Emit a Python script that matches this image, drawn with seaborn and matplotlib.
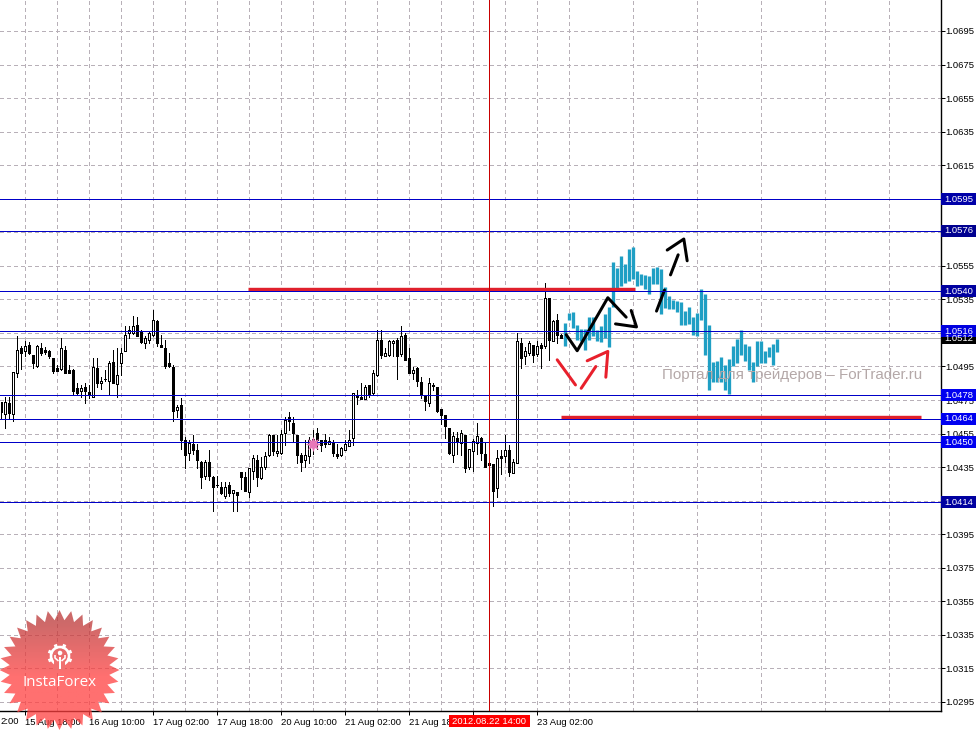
import numpy as np
import pandas as pd
import matplotlib
matplotlib.use("Agg")
import matplotlib.pyplot as plt
from matplotlib.patches import Polygon, Rectangle, Circle
from matplotlib.transforms import blended_transform_factory
import seaborn as sns

# --- chart values (prices) ---
opens = [1.04736,1.04664,1.04730,1.04664,1.04910,1.05060,1.05040,1.05080,1.05020,1.04954,1.05060,1.05048,1.05044,1.05000,1.04940,1.04936,1.05050,1.04930,1.04930,1.04820,
1.04806,1.04826,1.04796,1.04766,1.04940,1.04850,1.04874,1.04866,1.04976,1.04846,1.04970,1.05040,1.05150,1.05150,1.05200,1.05154,1.05090,1.05106,1.05138,1.05224,
1.05078,1.05060,1.04970,1.04946,1.04690,1.04720,1.04510,1.04434,1.04488,1.04450,1.04382,1.04300,1.04378,1.04294,1.04246,1.04230,1.04180,1.04244,1.04196,1.04202,
1.04322,1.04290,1.04200,1.04330,1.04394,1.04284,1.04350,1.04420,1.04544,1.04434,1.04434,1.04554,1.04646,1.04616,1.04544,1.04420,1.04394,1.04416,1.04470,1.04556,
1.04510,1.04510,1.04490,1.04494,1.04426,1.04420,1.04454,1.04478,1.04524,1.04778,1.04770,1.04758,1.04838,1.04794,1.04898,1.05106,1.05010,1.05016,1.05090,1.05110,
1.05026,1.05140,1.05000,1.04910,1.04942,1.04858,1.04774,1.04734,1.04834,1.04826,1.04696,1.04658,1.04586,1.04422,1.04526,1.04494,1.04544,1.04350,1.04446,1.04494,
1.04526,1.04426,1.04376,1.04366,1.04224,1.04418,1.04416,1.04454,1.04314,1.04374,1.05090,1.05010,1.05030,1.05078,1.05026,1.05080,1.05070,1.05356,1.05100,1.05226,1.05140]
closes = [1.04676,1.04736,1.04674,1.04916,1.05048,1.05030,1.05070,1.05030,1.04968,1.05074,1.05028,1.05038,1.05010,1.04924,1.04926,1.05060,1.04914,1.04914,1.04806,1.04794,
1.04820,1.04806,1.04778,1.04946,1.04854,1.04866,1.04878,1.04970,1.04854,1.04902,1.05030,1.05136,1.05166,1.05194,1.05134,1.05096,1.05120,1.05150,1.05226,1.05090,
1.05068,1.04954,1.04954,1.04686,1.04706,1.04510,1.04420,1.04494,1.04454,1.04390,1.04290,1.04382,1.04300,1.04230,1.04244,1.04194,1.04234,1.04198,1.04212,1.04182,
1.04290,1.04210,1.04346,1.04406,1.04290,1.04350,1.04416,1.04540,1.04446,1.04446,1.04546,1.04634,1.04626,1.04554,1.04420,1.04382,1.04424,1.04510,1.04520,1.04510,
1.04484,1.04486,1.04506,1.04434,1.04418,1.04466,1.04486,1.04514,1.04790,1.04766,1.04758,1.04826,1.04786,1.04910,1.05110,1.05018,1.05030,1.05102,1.05102,1.05014,
1.05134,1.04986,1.04914,1.04930,1.04866,1.04782,1.04746,1.04850,1.04838,1.04686,1.04660,1.04594,1.04434,1.04538,1.04504,1.04556,1.04344,1.04456,1.04506,1.04538,
1.04436,1.04350,1.04360,1.04210,1.04406,1.04404,1.04450,1.04320,1.04382,1.05104,1.04998,1.05044,1.05090,1.05016,1.05070,1.05060,1.05360,1.05106,1.05224,1.05140,1.05120]
highs = [1.04736,1.04766,1.04766,1.04916,1.05130,1.05070,1.05100,1.05094,1.05020,1.05080,1.05090,1.05066,1.05050,1.05000,1.04960,1.05120,1.05070,1.04960,1.04934,1.04850,
1.04840,1.04850,1.04840,1.05000,1.05000,1.04886,1.04930,1.04980,1.05050,1.05060,1.05060,1.05190,1.05190,1.05254,1.05246,1.05166,1.05130,1.05160,1.05284,1.05230,
1.05136,1.05110,1.05030,1.04958,1.04720,1.04760,1.04530,1.04510,1.04540,1.04490,1.04386,1.04390,1.04450,1.04300,1.04300,1.04260,1.04260,1.04260,1.04214,1.04202,
1.04322,1.04320,1.04346,1.04420,1.04420,1.04410,1.04440,1.04550,1.04544,1.04540,1.04570,1.04650,1.04676,1.04646,1.04544,1.04434,1.04510,1.04530,1.04574,1.04586,
1.04514,1.04550,1.04530,1.04510,1.04490,1.04470,1.04514,1.04574,1.04794,1.04810,1.04850,1.04840,1.04840,1.04930,1.05170,1.05170,1.05060,1.05110,1.05110,1.05120,
1.05194,1.05150,1.05060,1.04946,1.04946,1.04886,1.04774,1.04880,1.04850,1.04830,1.04696,1.04658,1.04586,1.04560,1.04560,1.04570,1.04544,1.04460,1.04520,1.04616,
1.04530,1.04494,1.04376,1.04366,1.04450,1.04450,1.04544,1.04480,1.04400,1.05150,1.05120,1.05066,1.05104,1.05078,1.05100,1.05090,1.05446,1.05360,1.05230,1.05260,1.05146]
lows = [1.04636,1.04586,1.04640,1.04626,1.04886,1.04938,1.05010,1.05026,1.04944,1.04946,1.05020,1.05026,1.05000,1.04914,1.04924,1.04930,1.04914,1.04910,1.04780,1.04786,
1.04766,1.04734,1.04760,1.04766,1.04830,1.04814,1.04866,1.04780,1.04850,1.04766,1.04900,1.05040,1.05120,1.05146,1.05130,1.05090,1.05058,1.05090,1.05134,1.05074,
1.05066,1.04944,1.04946,1.04626,1.04650,1.04460,1.04346,1.04390,1.04430,1.04346,1.04224,1.04280,1.04274,1.04090,1.04230,1.04190,1.04166,1.04180,1.04090,1.04090,
1.04220,1.04210,1.04170,1.04280,1.04240,1.04280,1.04340,1.04414,1.04420,1.04414,1.04430,1.04480,1.04570,1.04500,1.04374,1.04330,1.04350,1.04374,1.04430,1.04460,
1.04444,1.04470,1.04486,1.04414,1.04404,1.04414,1.04450,1.04478,1.04480,1.04726,1.04756,1.04758,1.04766,1.04778,1.04894,1.05000,1.05010,1.05014,1.05014,1.04878,
1.05014,1.04986,1.04914,1.04874,1.04834,1.04760,1.04690,1.04716,1.04810,1.04680,1.04610,1.04524,1.04430,1.04380,1.04430,1.04420,1.04320,1.04340,1.04330,1.04430,
1.04390,1.04350,1.04360,1.04120,1.04170,1.04310,1.04380,1.04300,1.04314,1.04374,1.04940,1.04966,1.05020,1.04974,1.05010,1.04940,1.05060,1.04986,1.05100,1.05090,1.05120]
projection_highs = [1.05210,1.05266,1.05276,1.05200,1.05174,1.05174,1.05246,1.05246,1.05170,1.05190,1.05260,1.05306,1.05570,1.05540,1.05610,1.05560,1.05650,1.05660,1.05518,1.05500,
1.05494,1.05490,1.05540,1.05546,1.05530,1.05426,1.05370,1.05346,1.05340,1.05334,1.05280,1.05306,1.05246,1.05270,1.05410,1.05380,1.05200,1.04974,1.04980,1.05006,
1.04960,1.04994,1.05070,1.05114,1.05170,1.05086,1.05074,1.04974,1.05100,1.05100,1.05040,1.05066,1.05084,1.05114]
projection_lows = [1.05070,1.05230,1.05180,1.05110,1.05100,1.05050,1.05110,1.05130,1.05100,1.05094,1.05122,1.05064,1.05306,1.05410,1.05430,1.05450,1.05460,1.05470,1.05430,1.05434,
1.05410,1.05380,1.05440,1.05440,1.05260,1.05300,1.05290,1.05290,1.05274,1.05200,1.05200,1.05206,1.05140,1.05134,1.05230,1.05020,1.04810,1.04860,1.04860,1.04860,
1.04810,1.04786,1.04950,1.04970,1.05020,1.04980,1.04930,1.04860,1.04950,1.04970,1.04970,1.05006,1.04960,1.05034]
projection_start = 141

levels = [1.0595, 1.0576, 1.0540, 1.0516, 1.0478, 1.0464, 1.0450, 1.0414]
level_box_colors = ["#0000a8", "#000090", "#0000a0", "#0000e0", "#0000f0", "#0000f0", "#0000f0", "#0000a0"]
ask_level = 1.0512
y_ticks = [1.0695,1.0675,1.0655,1.0635,1.0615,1.0595,1.0575,1.0555,1.0535,1.0515,1.0495,1.0475,1.0455,1.0435,1.0415,1.0395,1.0375,1.0355,1.0335,1.0315,1.0295]
hidden_y_ticks = [1.0595, 1.0575, 1.0515, 1.0415]   # fully covered by the price boxes
y_tick_labels = ["" if v in hidden_y_ticks else f"{v:.4f}" for v in y_ticks]
x_tick_bars = [6,22,38,54,70,86,102,118,134]
x_tick_labels = ["15 Aug 18:00","16 Aug 10:00","17 Aug 02:00","17 Aug 18:00","20 Aug 10:00","21 Aug 02:00","21 Aug 18:00","","23 Aug 02:00"]
cursor_bar = 122
cursor_label = "2012.08.22 14:00"

support_bars = [140, 230]
support_prices = [1.04647, 1.04647]
resistance_bars = [61.75, 158.5]
resistance_prices = [1.05410, 1.05410]

black_paths = [
    ([141.17,143.92,151.58,156.17],[1.05140,1.05044,1.05360,1.05244]),
    ([153.5,158.75,157.42],[1.05204,1.05186,1.05284]),
    ([163.75,165.75],[1.05280,1.05406]),
    ([167.25,169.17],[1.05496,1.05616]),
    ([166.42,170.58,171.42],[1.05644,1.05710,1.05580]),
]
red_paths = [
    ([138.92,143.5],[1.04990,1.04840]),
    ([144.92,148.58],[1.04820,1.04950]),
    ([146.42,151.58,151.08],[1.04984,1.05040,1.04886]),
]

# --- figure ---
W, H = 979, 730
PX = 0.72
FS = 6.8
sns.set_theme(style="white", rc={"lines.scale_dashes": False, "lines.solid_capstyle": "butt"})
plt.rcParams["font.family"] = ["Liberation Sans", "DejaVu Sans"]
fig = plt.figure(figsize=(W/100, H/100), dpi=100, facecolor="white")
ax = fig.add_axes([0, 1-711/H, 941/W, 711/H], facecolor="white")

n = len(opens)
bars = np.arange(n)
o, c, hi, lo = map(np.array, (opens, closes, highs, lows))
wicks = pd.DataFrame({"bar": np.r_[bars, bars], "price": np.r_[hi, lo]})
sns.lineplot(data=wicks, x="bar", y="price", units="bar", estimator=None, color="black",
             lw=PX, antialiased=False, legend=False, ax=ax, zorder=3, sort=False)
ax.bar(bars, np.maximum(np.abs(c-o), 1e-5), bottom=np.minimum(o, c), width=0.5,
       color=["white" if cc > oo else "black" for oo, cc in zip(o, c)],
       edgecolor="black", linewidth=PX, antialiased=False, zorder=3.2)

pb = projection_start + np.arange(len(projection_highs))
proj = pd.DataFrame({"bar": np.r_[pb, pb], "price": projection_highs + projection_lows})
sns.lineplot(data=proj, x="bar", y="price", units="bar", estimator=None, color="#1f9fc4",
             lw=3.3*PX, legend=False, ax=ax, zorder=3.5, sort=False)

for xs, ys in [(support_bars, support_prices), (resistance_bars, resistance_prices)]:
    ax.plot(xs, ys, color="#e0202c", lw=3.4*PX, zorder=4)
for paths, col in [(black_paths, "black"), (red_paths, "#e8202c")]:
    for xs, ys in paths:
        sns.lineplot(x=xs, y=ys, color=col, lw=3*PX, sort=False, estimator=None, legend=False,
                     ax=ax, zorder=5, solid_capstyle="round")

ax.axhline(ask_level, color="#b4b4b4", lw=PX, antialiased=False, zorder=2.5)
for lv in levels:
    ax.axhline(lv, color="#0000c8", lw=PX, antialiased=False, zorder=6)
ax.axvline(cursor_bar, color="#c80000", lw=PX, antialiased=False, zorder=6)
ax.scatter([77.9], [1.0449], marker=(8, 1, 0), s=120, color="#e878b8", linewidths=0, zorder=7)

# watermark
ax.text(922/941, 1.0490, "Портал для трейдеров – ForTrader.ru",
        transform=blended_transform_factory(ax.transAxes, ax.transData),
        ha="right", va="center", fontsize=10.9, color="#b4a8a8", zorder=7)

ax.set_xlim(-0.375, 234.875)
ax.set_ylim(1.0695-680/16775, 1.0695+31/16775)
ax.set_xlabel(""); ax.set_ylabel("")
ax.yaxis.tick_right()
ax.set_yticks(y_ticks)
ax.set_yticklabels(y_tick_labels, fontsize=FS, color="black")
ax.set_xticks(x_tick_bars)
ax.set_xticklabels(x_tick_labels, fontsize=FS, color="black", ha="left")
ax.set_xticks(np.arange(6+8, 232, 16), minor=True)
ax.tick_params(axis="x", which="major", length=3, width=PX, pad=2, bottom=True, color="black")
ax.tick_params(axis="x", which="minor", length=0)
ax.tick_params(axis="y", which="major", length=2.7, width=PX, pad=0.6, right=True, left=False, color="black")
grid_kw = dict(color="#b8b0b8", lw=PX, linestyle=(0, (2.2, 2.2)), antialiased=False)
ax.grid(True, axis="both", which="major", **grid_kw)
ax.grid(True, axis="x", which="minor", **grid_kw)
ax.set_axisbelow(True)
for s in ("top", "left"):
    ax.spines[s].set_visible(False)
for s in ("right", "bottom"):
    ax.spines[s].set_color("black"); ax.spines[s].set_linewidth(1.4*PX)

# overlay in picture pixels: price boxes, cursor box, logo
ov = fig.add_axes([0, 0, 1, 1], zorder=10)
ov.set_xlim(0, W); ov.set_ylim(H, 0); ov.axis("off"); ov.patch.set_alpha(0)
to_px = lambda v: 31 + (1.0695 - v)*16775

ov.text(0.5, 721, "2:00", fontsize=FS, color="black", va="center", ha="left")
ov.add_patch(Rectangle((941, to_px(ask_level)-5), 35, 11, color="black", lw=0))
ov.text(944.5, to_px(ask_level)+0.5, f"{ask_level:.4f}", color="white", fontsize=FS, va="center")
for lv, col in zip(levels, level_box_colors):
    y = to_px(lv)
    ov.add_patch(Rectangle((941, y-6), 35, 12, color=col, lw=0))
    ov.text(944.5, y+0.3, f"{lv:.4f}", color="white", fontsize=FS, va="center")
ov.add_patch(Rectangle((449, 715), 81, 12, color="#ff0000", lw=0))
ov.text(489.5, 721, cursor_label, color="white", fontsize=FS, va="center", ha="center")

# InstaForex logo
cx, cy, spikes = 59.5, 670, 32
ang = np.linspace(0, 2*np.pi, 2*spikes, endpoint=False) - np.pi/2
rad = np.where(np.arange(2*spikes) % 2 == 0, 60, 50)
star = Polygon(np.c_[cx + rad*np.cos(ang), cy + rad*np.sin(ang)], transform=ov.transData, fc="none", ec="none")
ov.add_patch(star)
rows = np.linspace(0, 1, 130)
ramp = np.clip((rows-0.1)/0.45, 0, 1)[:, None]
top, bot = np.array([188, 55, 55])/255, np.array([255, 64, 64])/255
grad = (top*(1-ramp) + bot*ramp)[:, None, :]
im = ov.imshow(grad, extent=(-1, 120, 731, 609), aspect="auto", alpha=0.75, zorder=1)
im.set_clip_path(star)
ov.set_xlim(0, W); ov.set_ylim(H, 0)
gx, gy = 60, 656
for a in np.linspace(0, 2*np.pi, 9)[:-1] + np.pi/8:
    if abs(np.sin(a) - 1) < 0.3:
        continue
    ov.plot([gx+8*np.cos(a), gx+12.5*np.cos(a)], [gy+8*np.sin(a), gy+12.5*np.sin(a)], color="white", lw=3*PX*1.1, zorder=2)
ov.add_patch(Circle((gx, gy), 9, fc="none", ec="white", lw=2.6*PX, zorder=2))
ov.add_patch(Rectangle((gx-5.5, gy+5), 11, 9, fc="#f07070", ec="none", zorder=2.1))
ov.add_patch(Circle((gx, gy-3), 2.3, fc="white", ec="none", zorder=3))
ov.plot([gx, gx], [gy+1, gy+13], color="white", lw=2*PX, zorder=3)
ov.plot([gx-5, gx-5, gx-1.5], [gy-1, gy+2, gy+5], color="white", lw=1.6*PX, zorder=3)
ov.plot([gx+5, gx+5, gx+1.5], [gy-1, gy+2, gy+5], color="white", lw=1.6*PX, zorder=3)
ov.text(59.5, 682, "InstaForex", color="white", fontsize=10.9, ha="center", va="center", zorder=3,
        fontfamily=["Open Sans", "DejaVu Sans"])

fig.savefig("out.png", dpi=100, facecolor="white")
